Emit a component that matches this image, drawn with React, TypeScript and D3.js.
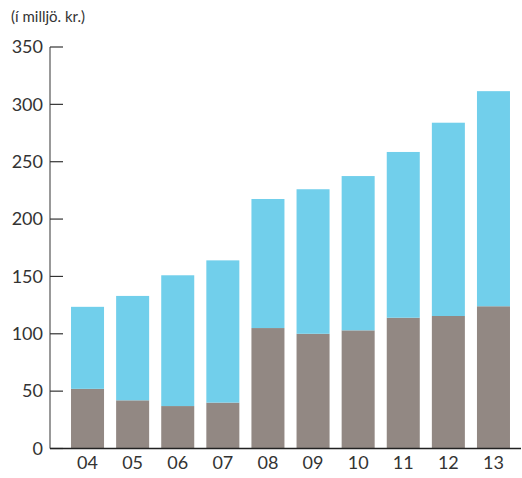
import React from 'react';
import { scaleBand, scaleLinear, stack } from 'd3';

const years = ['04', '05', '06', '07', '08', '09', '10', '11', '12', '13'];
// lower (grey-brown) segment
const lowerValues = [52, 42, 37, 40, 105, 100, 103, 114, 115.5, 124];
// upper (light blue) segment
const upperValues = [71.5, 91, 114, 124, 112.5, 126, 134.5, 144.5, 168.5, 187.5];
const yTicks = [0, 50, 100, 150, 200, 250, 300, 350];
const unitLabel = '(í milljö. kr.)';

const colors = { lower: '#928883', upper: '#71cfeb' };

const W = 522;
const H = 478;

export default function App() {
  const rows = years.map((y, i) => ({ year: y, lower: lowerValues[i], upper: upperValues[i] }));
  const series = stack<any>().keys(['lower', 'upper'])(rows);

  const x = scaleBand<string>()
    .domain(years)
    .range([50, 531])
    .paddingInner(0.268)
    .paddingOuter(0.466);
  const y = scaleLinear().domain([0, 350]).range([448.5, 47]);

  const font = "'Lato', 'Open Sans', sans-serif";
  const textColor = '#333';

  return (
    <div style={{ position: 'absolute', left: 0, top: 0 }}>
      <svg width={W} height={H} style={{ display: 'block', background: '#fff' }} fontFamily={font}>
        <text x={11} y={22} fontSize={15} fill={textColor}>{unitLabel}</text>

        {series.map((s) => (
          <g key={s.key} fill={s.key === 'lower' ? colors.lower : colors.upper}>
            {s.map((d, i) => (
              <rect
                key={years[i]}
                x={x(years[i])}
                width={x.bandwidth()}
                y={y(d[1])}
                height={y(d[0]) - y(d[1])}
              />
            ))}
          </g>
        ))}

        {/* y axis */}
        <line x1={50} x2={50} y1={y(350)} y2={y(0)} stroke="#555" strokeWidth={1.2} />
        {yTicks.map((t) => (
          <g key={t}>
            <line x1={50} x2={63} y1={y(t)} y2={y(t)} stroke="#333" strokeWidth={1.2} />
            <text x={43} y={y(t)} dy="0.35em" textAnchor="end" fontSize={18} fill={textColor}>
              {t}
            </text>
          </g>
        ))}

        {/* x axis */}
        <line x1={50} x2={521} y1={y(0)} y2={y(0)} stroke="#222" strokeWidth={1.3} />
        {years.map((yr) => (
          <text
            key={yr}
            x={(x(yr) ?? 0) + x.bandwidth() / 2}
            y={469}
            textAnchor="middle"
            fontSize={18}
            fill={textColor}
          >
            {yr}
          </text>
        ))}
      </svg>
    </div>
  );
}
